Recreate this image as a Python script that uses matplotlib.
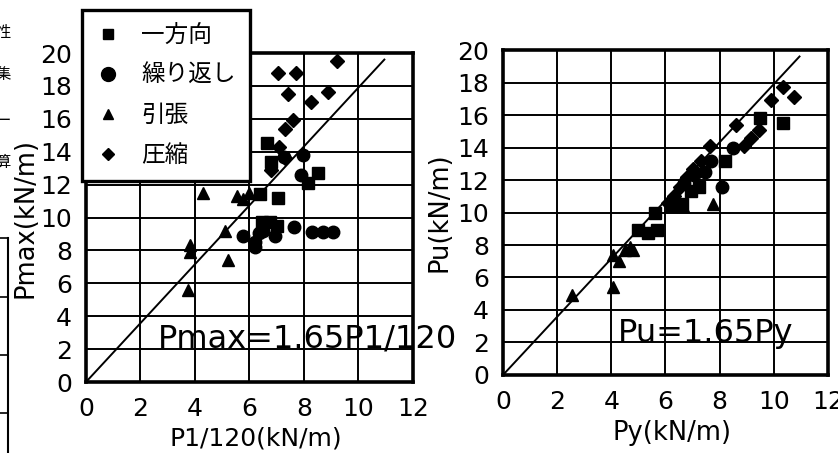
import matplotlib
matplotlib.use("Agg")
import matplotlib.pyplot as plt
from matplotlib.lines import Line2D

# ── Left panel: Pmax vs P1/120 ────────────────────────────────────────────────
sq_L_x   = [6.65, 6.8, 8.5, 8.15, 6.4, 7.05, 6.45, 6.75, 7.0]
sq_L_y   = [14.5, 13.4, 12.7, 12.1, 11.4, 11.2, 9.7, 9.7, 9.5]
circ_L_x = [7.95, 7.25, 7.9, 7.65, 8.3, 8.7, 9.05, 5.75, 6.2, 6.35, 6.5, 6.95, 6.2]
circ_L_y = [13.8, 13.7, 12.6, 9.4, 9.1, 9.1, 9.1, 8.9, 8.5, 9.05, 9.2, 8.9, 8.2]
tri_L_x  = [4.3, 5.55, 5.75, 6.0, 5.1, 3.8, 3.8, 5.2, 3.75]
tri_L_y  = [11.5, 11.3, 11.1, 11.5, 9.2, 8.3, 7.9, 7.4, 5.6]
dia_L_x  = [9.2, 7.05, 7.7, 7.4, 8.9, 8.25, 7.6, 7.3, 7.1, 7.3, 6.8]
dia_L_y  = [19.5, 18.8, 18.8, 17.5, 17.6, 17.0, 15.9, 15.4, 14.3, 13.6, 12.9]

# ── Right panel: Pu vs Py ─────────────────────────────────────────────────────
sq_R_x   = [9.5, 10.35, 8.2, 7.25, 5.6, 5.0, 5.35, 5.7, 6.25, 6.6, 6.95]
sq_R_y   = [15.8, 15.5, 13.2, 11.6, 10.0, 8.9, 8.75, 8.9, 10.4, 10.5, 11.3]
circ_R_x = [8.5, 8.1, 7.7, 7.45, 7.05, 6.7]
circ_R_y = [14.0, 11.6, 13.2, 12.5, 12.3, 11.8]
tri_R_x  = [7.75, 6.65, 6.4, 2.55, 4.05, 4.3, 4.05, 4.7, 4.8, 4.5]
tri_R_y  = [10.5, 10.4, 10.6, 4.9, 5.4, 7.0, 7.4, 7.9, 7.7, 7.7]
dia_R_x  = [10.35, 10.75, 9.9, 8.6, 9.45, 9.15, 8.9, 7.65, 7.3, 7.0, 6.8, 6.55, 6.3, 6.1]
dia_R_y  = [17.7, 17.1, 16.9, 15.4, 15.1, 14.6, 14.1, 14.1, 13.2, 12.7, 12.2, 11.6, 11.0, 10.6]

# reference lines as drawn in the figure
LINE_SLOPE = 1.79
LINE_XEND  = 10.95

labels  = ["一方向", "繰り返し", "引張", "圧縮"]
markers = ["s", "o", "^", "D"]
msizes  = [8.5, 9, 8, 7]
leg_ms  = [7, 10, 7, 6.5]

TICKS  = [0, 2, 4, 6, 8, 10, 12]
YTICKS = [0, 2, 4, 6, 8, 10, 12, 14, 16, 18, 20]

plt.rcParams.update({
    "font.family": ["DejaVu Sans", "Noto Sans CJK JP"],
    "font.size": 16,
})

fig = plt.figure(figsize=(8.38, 4.53), dpi=100)
axL = fig.add_axes([0.1026, 0.1567, 0.3902, 0.7263])
axR = fig.add_axes([0.6002, 0.1722, 0.3878, 0.7174])


def style(ax):
    ax.set_xlim(0, 12)
    ax.set_ylim(0, 20)
    ax.set_xticks(TICKS)
    ax.set_yticks(YTICKS)
    ax.grid(True, color="black", linewidth=1.4)
    ax.set_axisbelow(True)
    ax.tick_params(length=0, labelsize=18)
    ax.tick_params(axis="y", pad=10)
    ax.tick_params(axis="x", pad=11)
    for s in ax.spines.values():
        s.set_linewidth(2.6)
        s.set_color("black")


for ax, sets in [
    (axL, [(sq_L_x, sq_L_y), (circ_L_x, circ_L_y), (tri_L_x, tri_L_y), (dia_L_x, dia_L_y)]),
    (axR, [(sq_R_x, sq_R_y), (circ_R_x, circ_R_y), (tri_R_x, tri_R_y), (dia_R_x, dia_R_y)]),
]:
    style(ax)
    ax.plot([0, LINE_XEND], [0, LINE_SLOPE * LINE_XEND], color="black", linewidth=1.4, zorder=3)
    for (xs, ys), m, ms in zip(sets, markers, msizes):
        ax.plot(xs, ys, m, color="black", markersize=ms, linestyle="none", zorder=4)

axL.set_xlabel("P1/120(kN/m)", fontsize=18)
axL.xaxis.set_label_coords(0.52, -0.135)
axL.set_ylabel("Pmax(kN/m)", fontsize=18.5)
axL.yaxis.set_label_coords(-0.145, 0.5)
axL.text(2.64, 2.1, "Pmax=1.65P1/120", fontsize=23, ha="left", va="baseline",
         clip_on=False, zorder=6)

axR.set_xlabel("Py(kN/m)", fontsize=18.5)
axR.xaxis.set_label_coords(0.52, -0.14)
axR.set_ylabel("Pu(kN/m)", fontsize=18.5)
axR.yaxis.set_label_coords(-0.155, 0.5)
axR.text(4.24, 2.0, "Pu=1.65Py", fontsize=23, ha="left", va="baseline", zorder=6)

# legend box in the upper left corner of the left panel
handles = [Line2D([0], [0], marker=m, color="black", linestyle="none", markersize=ms)
           for m, ms in zip(markers, leg_ms)]
leg = fig.legend(handles, labels, loc="upper left", bbox_to_anchor=(82 / 838, 1 - 10 / 453),
                 prop={"family": ["Noto Sans CJK JP", "DejaVu Sans"], "size": 17},
                 frameon=True, fancybox=False, framealpha=1, edgecolor="black",
                 labelspacing=0.72, handletextpad=0.9, borderpad=0.6, handlelength=1.0,
                 borderaxespad=0)
leg.get_frame().set_linewidth(2.4)

# cut-off text and table from the neighbouring page column
edge_chars = ["性", "集", "ー", "算"]
edge_ys = [33, 75, 120, 162]
for ch, yy in zip(edge_chars, edge_ys):
    fig.text(0.004, 1 - yy / 453, ch, fontsize=11, ha="center", va="center",
             family=["Noto Sans CJK JP"])
TABLE_ROWS_PX = [238, 297, 355, 413]
fig.add_artist(Line2D([8 / 838, 8 / 838], [0, 1 - 238 / 453], color="black", linewidth=1.5))
for yy in TABLE_ROWS_PX:
    fig.add_artist(Line2D([0, 8 / 838], [1 - yy / 453, 1 - yy / 453], color="black", linewidth=1.2))

fig.savefig("out.png", dpi=100)
